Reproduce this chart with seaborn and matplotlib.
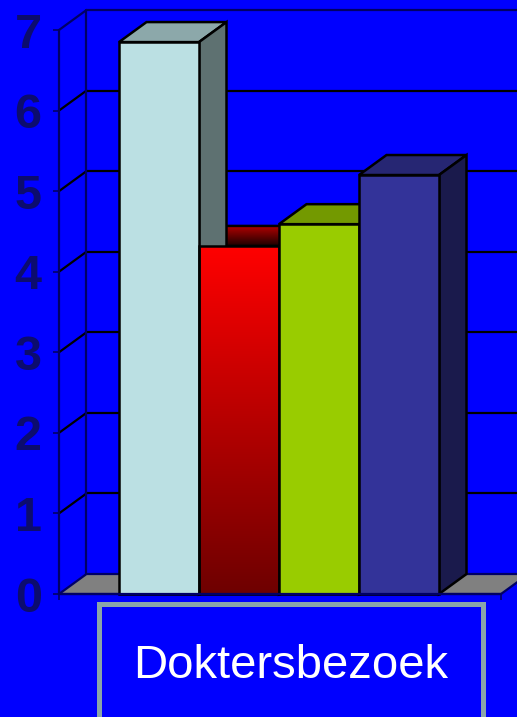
import numpy as np
import pandas as pd
import matplotlib
matplotlib.use('Agg')
import matplotlib.pyplot as plt
from matplotlib.colors import LinearSegmentedColormap
from matplotlib.patches import Polygon, Rectangle
import seaborn as sns

# data
categorie = ["Doktersbezoek"]
reeksen = ["Reeks 1", "Reeks 2", "Reeks 3", "Reeks 4"]
waarden = [6.85, 4.32, 4.59, 5.2]
y_ticks = [0, 1, 2, 3, 4, 5, 6, 7]

# kleuren per reeks: voorkant / bovenkant / zijkant
voorkant = ["#BBE0E3", "#FF0000", "#99CC00", "#333399"]
bovenkant = ["#8CA8AA", "#A00000", "#739900", "#262673"]
zijkant = ["#5E7171", "#700000", "#5C7A00", "#1A1A4C"]

BG = '#0000FF'
NAVY = '#000066'
LABEL = '#0c0c6e'

sns.set_theme(style="ticks")
plt.rcParams['font.family'] = ['Liberation Sans', 'DejaVu Sans']

W, H = 517, 717
fig = plt.figure(figsize=(W / 100, H / 100), dpi=100, facecolor=BG)
ax = fig.add_axes([59 / W, (H - 594) / H, 442 / W, 564 / H])
ax.set_facecolor('none')

df = pd.DataFrame({'categorie': categorie * len(reeksen), 'reeks': reeksen, 'waarde': waarden})
sns.barplot(data=df, x='categorie', y='waarde', hue='reeks', palette=voorkant, saturation=1,
            edgecolor='black', linewidth=1.8, legend=False, width=0.8, ax=ax)

x0, x1 = -0.55, 0.555
ymax = y_ticks[-1]
# diepte van het 3D-effect in data-eenheden (27.5 px rechts, 20 px omhoog)
DX = 27.5 / (442 / (x1 - x0))
DY = 20 / (564 / ymax)

# achterwand, zijwand en vloer
for yt in y_ticks[1:]:
    kleur = NAVY if yt == ymax else 'black'
    ax.plot([x0 + DX, x1 + DX], [yt + DY] * 2, color=kleur, lw=1.6, clip_on=False, zorder=1)
    ax.plot([x0, x0 + DX], [yt, yt + DY], color=kleur, lw=1.6, clip_on=False, zorder=1)
ax.plot([x0 + DX] * 2, [DY, ymax + DY], color=NAVY, lw=1.6, clip_on=False, zorder=1)
ax.plot([x0, x0], [0, ymax], color=NAVY, lw=1.6, clip_on=False, zorder=1)
vloer = Polygon([(x0, 0), (x1, 0), (x1 + DX, DY), (x0 + DX, DY)], closed=True,
                facecolor='#808080', edgecolor=NAVY, lw=1.6, clip_on=False, zorder=1.5)
ax.add_patch(vloer)

bars = sorted([p for p in ax.patches if isinstance(p, Rectangle)], key=lambda p: p.get_x())
for i, p in enumerate(bars):
    x, w, h = p.get_x(), p.get_width(), p.get_height()
    top = Polygon([(x, h), (x + w, h), (x + w + DX, h + DY), (x + DX, h + DY)], closed=True,
                  facecolor=bovenkant[i], edgecolor='black', lw=1.8, clip_on=False, zorder=3)
    side = Polygon([(x + w, 0), (x + w, h), (x + w + DX, h + DY), (x + w + DX, DY)], closed=True,
                   facecolor=zijkant[i], edgecolor='black', lw=1.8, clip_on=False, zorder=4)
    ax.add_patch(top)
    ax.add_patch(side)
    p.set_zorder(5)
    p.set_clip_on(False)
    if i == 1:
        # rode balk met kleurverloop
        grad = np.linspace(0, 1, 256).reshape(-1, 1)
        cm_front = LinearSegmentedColormap.from_list('rood', ['#6E0000', '#FF0000'])
        im = ax.imshow(grad, extent=(x, x + w, 0, h), origin='lower', cmap=cm_front,
                       aspect='auto', zorder=4.9)
        im.set_clip_path(p)
        p.set_facecolor('none')
        top.set_facecolor('none')
        cm_top = LinearSegmentedColormap.from_list('rood_top', ['#1A0000', '#B00000'])
        im2 = ax.imshow(grad, extent=(x, x + w + DX, h, h + DY), origin='lower', cmap=cm_top,
                        aspect='auto', zorder=2.9)
        im2.set_clip_path(top)

ax.set_xlim(x0, x1)
ax.set_ylim(0, ymax)
ax.set_yticks(y_ticks)
ax.set_xticks([x0, x1])
ax.set_xticklabels(['', ''])
ax.set_xlabel('')
ax.set_ylabel('')
sns.despine(ax=ax, top=True, right=True)
ax.spines['left'].set_color(NAVY)
ax.spines['bottom'].set_color(NAVY)
ax.spines['left'].set_linewidth(1.2)
ax.spines['bottom'].set_linewidth(1.6)
ax.spines['bottom'].set_zorder(6)
ax.tick_params(axis='both', length=4.5, width=1.2, color=NAVY, direction='out')
ax.tick_params(axis='y', labelsize=35, labelcolor=LABEL, pad=8)
for lab in ax.get_yticklabels():
    lab.set_fontweight('bold')

# categorie-label in kader
kader = Rectangle((99 / W, -0.05), (482.5 - 99) / W, (H - 604) / H + 0.05, transform=fig.transFigure,
                  facecolor=BG, edgecolor='#8AA5A9', lw=3.6, zorder=10)
fig.add_artist(kader)
fig.text(290.5 / W, (H - 678) / H, categorie[0], ha='center', va='baseline', color='white',
         fontsize=34, zorder=11)

fig.savefig('out.png', dpi=100, facecolor=BG)
